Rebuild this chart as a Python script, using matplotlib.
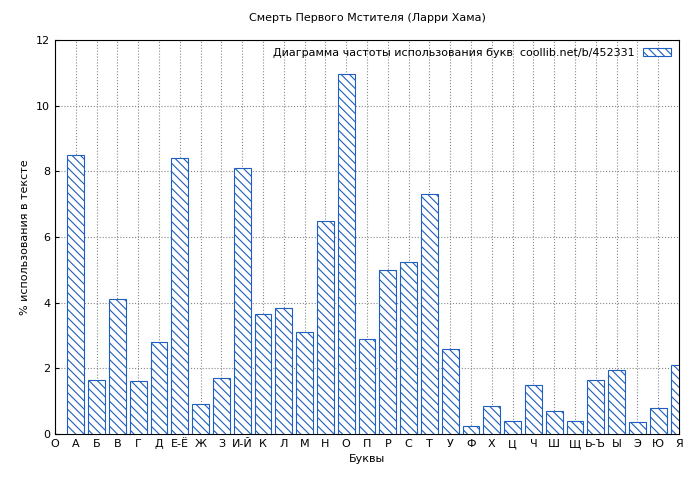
import matplotlib
matplotlib.use('Agg')
import matplotlib.pyplot as plt

letters = ['А','Б','В','Г','Д','Е-Ё','Ж','З','И-Й','К','Л','М','Н','О','П','Р','С','Т','У','Ф','Х','Ц','Ч','Ш','Щ','Ь-Ъ','Ы','Э','Ю','Я']
values = [8.5,1.65,4.1,1.6,2.8,8.4,0.9,1.7,8.1,3.65,3.85,3.1,6.5,10.95,2.9,5.0,5.25,7.3,2.6,0.25,0.85,0.4,1.5,0.7,0.4,1.65,1.95,0.38,0.8,2.1]

plt.rcParams['font.family'] = ['DejaVu Sans']
plt.rcParams['hatch.color'] = '#1f5fbf'
plt.rcParams['hatch.linewidth'] = 0.8
fig = plt.figure(figsize=(7, 4.8), dpi=100)
ax = fig.add_axes([55/700, 1-434/480, 624/700, 394/480])
pos = list(range(1, len(letters)+1))
ax.bar(pos, values, width=0.8, facecolor='white', edgecolor='#1f5fbf', hatch='\\\\\\\\', linewidth=0.8,
       label='Диаграмма частоты использования букв  coollib.net/b/452331', zorder=3)
ax.set_xlim(0, 30)
ax.set_ylim(0, 12)
ax.set_xticks([0] + pos)
ax.set_xticklabels(['О'] + letters, fontsize=8)
ax.set_yticks(range(0, 13, 2))
ax.tick_params(labelsize=8, direction='in', length=3)
ax.grid(True, linestyle=':', color='#888888', linewidth=0.8, zorder=0)
ax.set_xlabel('Буквы', fontsize=8)
ax.set_ylabel('% использования в тексте', fontsize=8)
ax.set_title('Смерть Первого Мстителя (Ларри Хама)', fontsize=8, pad=14)
ax.legend(loc='upper right', fontsize=8, frameon=False, markerfirst=False, handlelength=2.5, borderaxespad=0.3)
fig.savefig('out.png')
